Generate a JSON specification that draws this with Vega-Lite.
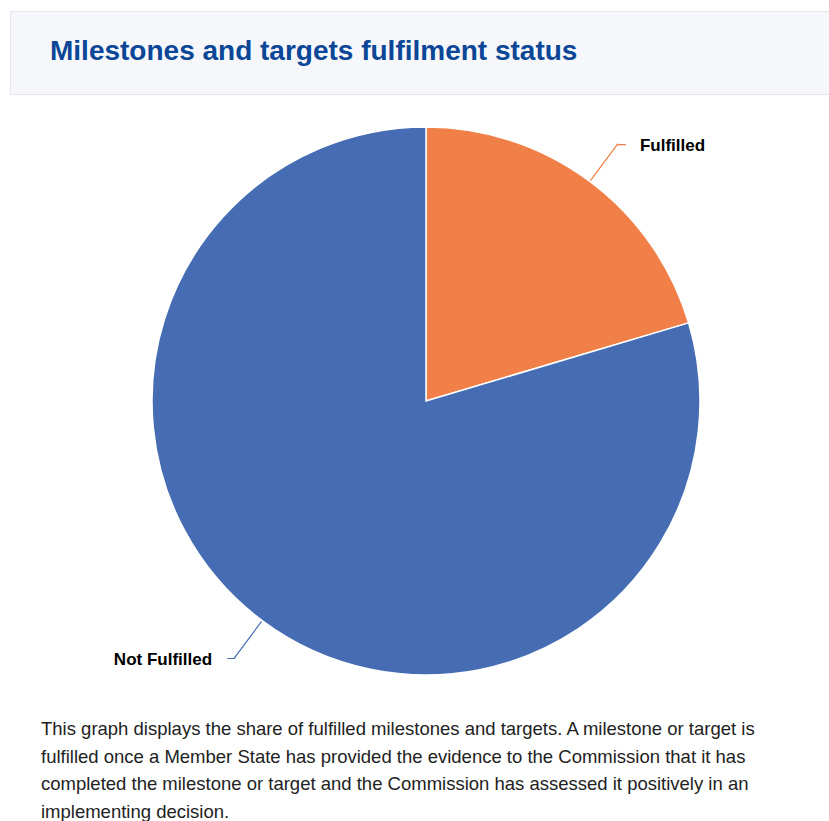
{
  "$schema": "https://vega.github.io/schema/vega-lite/v6.json",
  "padding": {"left": 9, "top": 10, "right": 0, "bottom": 0},
  "background": "white",
  "spacing": 0,
  "config": {"view": {"stroke": null}, "font": "Liberation Sans"},
  "vconcat": [
    {
      "width": 820,
      "height": 83,
      "view": {"fill": "#f6f7fb", "stroke": "#e6e7ec", "strokeWidth": 1},
      "title": {
        "text": "Milestones and targets fulfilment status",
        "anchor": "start",
        "frame": "group",
        "orient": "top",
        "offset": -77,
        "dx": 40,
        "baseline": "alphabetic",
        "font": "Liberation Sans",
        "fontSize": 28,
        "fontWeight": "bold",
        "color": "#0b4697"
      },
      "data": {"values": [{}]},
      "mark": {"type": "text"},
      "encoding": {}
    },
    {
      "width": 832,
      "height": 612,
      "title": {
        "text": [
          "This graph displays the share of fulfilled milestones and targets. A milestone or target is",
          "fulfilled once a Member State has provided the evidence to the Commission that it has",
          "completed the milestone or target and the Commission has assessed it positively in an",
          "implementing decision."
        ],
        "orient": "bottom",
        "anchor": "start",
        "frame": "group",
        "dx": 31,
        "offset": 28,
        "baseline": "alphabetic",
        "font": "Liberation Sans",
        "fontSize": 18.5,
        "fontWeight": "normal",
        "lineHeight": 27.5,
        "color": "#222222"
      },
      "data": {
        "values": [
          {"category": "Fulfilled", "value": 20.4},
          {"category": "Not Fulfilled", "value": 79.6}
        ]
      },
      "transform": [
        {"stack": "value", "groupby": [], "sort": [{"field": "category", "order": "ascending"}], "as": ["s0", "s1"]},
        {"fold": ["s0", "s1"], "as": ["k", "v"]},
        {"aggregate": [{"op": "mean", "field": "v", "as": "mid"}], "groupby": ["category", "value"]}
      ],
      "layer": [
        {
          "mark": {"type": "arc", "outerRadius": 274, "stroke": "white", "strokeWidth": 1.5},
          "encoding": {
            "theta": {"field": "value", "type": "quantitative", "stack": true},
            "color": {
              "field": "category",
              "type": "nominal",
              "scale": {"domain": ["Fulfilled", "Not Fulfilled"], "range": ["#f07f48", "#466db3"]},
              "legend": null
            },
            "order": {"field": "category", "sort": "ascending"}
          }
        },
        {
          "mark": {"type": "arc", "filled": false, "innerRadius": 275, "outerRadius": 321, "strokeWidth": 1.2},
          "encoding": {
            "theta": {"field": "mid", "type": "quantitative", "stack": null},
            "theta2": {"field": "mid"},
            "color": {"field": "category", "type": "nominal", "legend": null}
          }
        },
        {
          "transform": [{"filter": "datum.category == 'Fulfilled'"}],
          "mark": {"type": "text", "radius": 321, "align": "left", "baseline": "middle", "dx": -1, "dy": 0, "fontSize": 16, "text": "–"},
          "encoding": {
            "theta": {"field": "mid", "type": "quantitative", "stack": null},
            "color": {"field": "category", "type": "nominal", "legend": null}
          }
        },
        {
          "transform": [{"filter": "datum.category == 'Not Fulfilled'"}],
          "mark": {"type": "text", "radius": 321, "align": "right", "baseline": "middle", "dx": 1, "dy": 0, "fontSize": 14, "text": "–"},
          "encoding": {
            "theta": {"field": "mid", "type": "quantitative", "stack": null},
            "color": {"field": "category", "type": "nominal", "legend": null}
          }
        },
        {
          "transform": [{"filter": "datum.category == 'Fulfilled'"}],
          "mark": {"type": "text", "radius": 321, "align": "left", "baseline": "middle", "dx": 22, "dy": 2, "fontSize": 17, "fontWeight": "bold", "font": "Liberation Sans", "color": "#000000"},
          "encoding": {
            "theta": {"field": "mid", "type": "quantitative", "stack": null},
            "text": {"field": "category"}
          }
        },
        {
          "transform": [{"filter": "datum.category == 'Not Fulfilled'"}],
          "mark": {"type": "text", "radius": 321, "align": "right", "baseline": "middle", "dx": -22, "dy": 2, "fontSize": 17, "fontWeight": "bold", "font": "Liberation Sans", "color": "#000000"},
          "encoding": {
            "theta": {"field": "mid", "type": "quantitative", "stack": null},
            "text": {"field": "category"}
          }
        }
      ]
    }
  ]
}
